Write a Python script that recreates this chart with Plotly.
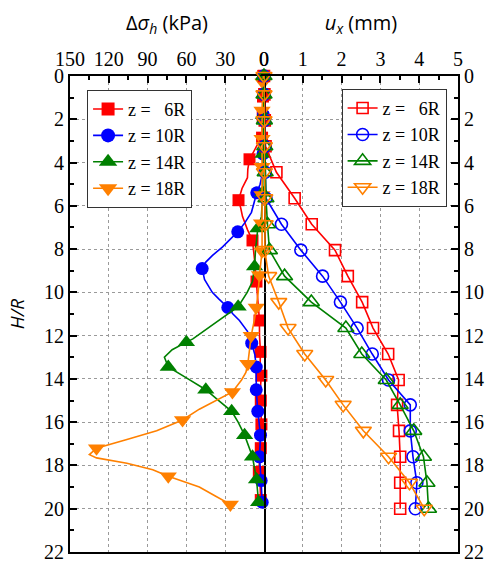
import plotly.graph_objects as go

# ---------------- data ----------------
series_names = ["z = \u00a0\u00a06R", "z = 10R", "z = 14R", "z = 18R"]
colors = ["#FF0000", "#0000FF", "#008000", "#FF8000"]
filled_symbols = ["square", "circle", "triangle-up", "triangle-down"]
open_symbols = ["square-open", "circle-open", "triangle-up-open", "triangle-down-open"]

# Left panel: horizontal stress change (kPa) vs H/R
red_h = [0, 0.95, 1.9, 2.85, 3.0, 3.85, 4.3, 4.7, 5.2, 5.74, 6.1, 6.5, 7.1, 7.6, 8.5, 9.5, 10.4, 11.3,
         12.0, 12.75, 13.3, 13.85, 14.4, 15.0, 15.5, 16.1, 16.7, 17.2, 17.8, 18.3, 18.9, 19.6, 19.9]
red_kpa = [0.5, 0.8, 1.0, 1.5, 3.5, 11.2, 12.5, 12.8, 17.0, 19.7, 18.0, 16.6, 12.8, 8.9, 7.3, 5.8, 5.0, 3.5,
           3.5, 2.7, 3.0, 2.0, 2.8, 2.5, 2.0, 2.0, 3.0, 2.5, 3.5, 4.0, 3.0, 2.5, 2.5]
red_mark = [1, 1, 1, 1, 0, 1, 0, 0, 0, 1, 0, 0, 0, 1, 0, 1, 0, 1,
            0, 1, 0, 1, 0, 1, 0, 1, 0, 1, 0, 1, 0, 1, 0]

blue_h = [0, 1.8, 3.6, 4.6, 5.0, 5.4, 5.8, 6.3, 6.8, 7.2, 7.6, 7.9, 8.3, 8.6, 8.9, 9.4, 9.7, 10.0, 10.3,
          10.7, 11.0, 11.3, 11.8, 12.35, 12.9, 13.45, 14.5, 15.5, 16.6, 17.6, 18.7, 19.7]
blue_kpa = [0.3, 0.5, 0.8, 1.5, 3.0, 5.6, 7.5, 9.7, 15.0, 20.3, 27.0, 32.0, 40.0, 45.0, 47.8, 46.0, 43.0,
            40.0, 35.0, 28.0, 24.0, 19.0, 12.8, 9.5, 7.0, 6.0, 6.0, 4.8, 2.7, 3.5, 2.2, 1.4]
blue_mark = [1, 1, 1, 0, 0, 1, 0, 0, 0, 1, 0, 0, 0, 0, 1, 0, 0, 0, 0,
             1, 0, 0, 0, 1, 0, 1, 1, 1, 1, 1, 1, 1]

green_h = [0, 1.8, 3.6, 5.4, 6.5, 7.05, 8.0, 8.8, 9.5, 10.0, 10.66, 11.0, 11.5, 11.9, 12.15, 12.3, 12.65,
           13.0, 13.45, 13.95, 14.5, 15.0, 15.5, 16.0, 16.6, 17.6, 18.65, 19.7]
green_kpa = [0.3, 0.5, 0.8, 1.0, 2.0, 4.8, 6.5, 7.3, 8.9, 13.0, 20.0, 28.0, 40.0, 50.0, 55.0, 60.0, 71.0,
             77.0, 74.0, 60.0, 45.0, 35.0, 25.0, 20.0, 15.0, 8.9, 5.8, 4.2]
green_mark = [1, 1, 1, 1, 0, 1, 0, 1, 0, 0, 1, 0, 0, 0, 0, 1, 0,
              0, 1, 0, 1, 0, 1, 0, 1, 1, 1, 1]

orange_h = [0, 0.3, 1.6, 2.9, 4.2, 5.5, 6.8, 8.1, 9.2, 10.0, 10.7, 11.3, 12.0, 12.6, 13.3, 13.7, 14.05,
            14.6, 15.0, 15.4, 15.9, 16.4, 16.8, 17.2, 17.5, 17.65, 17.9, 18.2, 18.5, 19.0, 19.4, 19.8]
orange_kpa = [0.5, 0.8, 1.5, 1.5, 1.5, 1.5, 2.0, 1.5, 3.5, 4.5, 6.0, 7.5, 9.9, 11.0, 12.5, 14.0, 17.4,
              24.4, 36.7, 50.0, 63.0, 83.0, 106.0, 129.5, 135.0, 129.5, 106.0, 86.0, 74.0, 50.0, 38.0, 26.0]
orange_mark = [0, 1, 1, 1, 1, 1, 1, 1, 1, 0, 1, 0, 1, 0, 1, 0, 0,
               1, 0, 0, 1, 0, 0, 1, 0, 0, 0, 0, 1, 0, 0, 1]

# Right panel: lateral displacement u_x (mm) vs H/R
ux_h = [0, 0.85, 2.05, 3.25, 4.45, 5.65, 6.85, 8.05, 9.25, 10.45, 11.65, 12.85, 14.05, 15.2, 16.4, 17.6, 18.8, 20.0]
ux_6R = [0, 0.01, 0.02, 0.04, 0.32, 0.79, 1.23, 1.83, 2.16, 2.53, 2.81, 3.20, 3.47, 3.43, 3.48, 3.51, 3.51, 3.51]
ux_10R = [0, 0.0, 0.01, 0.02, 0.03, 0.05, 0.45, 0.95, 1.51, 1.97, 2.40, 2.79, 3.21, 3.77, 3.77, 3.84, 3.94, 3.90]
ux_14R = [0, 0.0, 0.01, 0.02, 0.03, 0.05, 0.09, 0.14, 0.53, 1.22, 2.11, 2.52, 3.15, 3.51, 3.86, 4.11, 4.20, 4.24]
ux_18R = [0, 0.0, 0.0, 0.01, 0.01, 0.02, 0.03, 0.02, 0.12, 0.38, 0.62, 1.05, 1.59, 2.04, 2.56, 3.21, 3.75, 4.13]

kpa_ticks = [150, 120, 90, 60, 30, 0]
ux_ticks = [0, 1, 2, 3, 4, 5]
hr_ticks = list(range(0, 23, 2))

# ---------------- figure ----------------
left_sets = [(red_h, red_kpa, red_mark), (blue_h, blue_kpa, blue_mark),
             (green_h, green_kpa, green_mark), (orange_h, orange_kpa, orange_mark)]
right_sets = [ux_6R, ux_10R, ux_14R, ux_18R]
filled_sizes = [12, 13, 15, 15]
open_sizes = [11, 12, 14, 14]

fig = go.Figure()
for i, (h, v, m) in enumerate(left_sets):
    fig.add_trace(go.Scatter(
        x=v, y=h, xaxis="x", yaxis="y", mode="lines+markers",
        showlegend=False, cliponaxis=False,
        line=dict(color=colors[i], width=1.6),
        marker=dict(symbol=filled_symbols[i], color=colors[i], opacity=1,
                    size=[filled_sizes[i] if k else 0 for k in m], line=dict(width=0)),
    ))
    # legend entry (no data drawn)
    fig.add_trace(go.Scatter(
        x=[None], y=[None], xaxis="x", yaxis="y", mode="lines+markers",
        name=series_names[i], legend="legend",
        line=dict(color=colors[i], width=1.6),
        marker=dict(symbol=filled_symbols[i], color=colors[i], opacity=1,
                    size=filled_sizes[i] + 1, line=dict(width=0)),
    ))
for i, v in enumerate(right_sets):
    fig.add_trace(go.Scatter(
        x=v, y=ux_h, xaxis="x2", yaxis="y2", mode="lines+markers",
        name=series_names[i], legend="legend2", cliponaxis=False,
        line=dict(color=colors[i], width=1.6),
        marker=dict(symbol=open_symbols[i], color=colors[i], size=open_sizes[i], opacity=1,
                    line=dict(color=colors[i], width=1.6)),
    ))

tick_font = dict(family="Liberation Serif", size=20, color="black")
title_font = dict(family="Open Sans", size=20, color="black")
grid_common = dict(showgrid=True, gridcolor="#9a9a9a", gridwidth=1, griddash="3px,3px",
                   zeroline=False, showline=True, linecolor="black", linewidth=2,
                   ticks="inside", ticklen=7, tickwidth=1.5, tickcolor="black",
                   tickfont=tick_font, automargin=False)

fig.update_layout(
    width=491, height=564,
    margin=dict(l=70, r=33, t=76, b=12),
    paper_bgcolor="white", plot_bgcolor="white",
    showlegend=True,
    xaxis=dict(domain=[0, 0.5], range=[150, 0], side="top", anchor="y",
               tickvals=kpa_ticks, mirror=True,
               minor=dict(ticks="inside", ticklen=4, dtick=15, tick0=0, tickcolor="black", showgrid=False),
               title=dict(text="Δ<i>σ</i><sub><i>h</i></sub> (kPa)", font=title_font, standoff=12),
               **grid_common),
    xaxis2=dict(domain=[0.5, 1], range=[0, 5], side="top", anchor="y2",
                tickvals=ux_ticks, mirror=True,
                minor=dict(ticks="inside", ticklen=4, dtick=0.5, tick0=0, tickcolor="black", showgrid=False),
                title=dict(text="<i>u</i><sub><i>x</i></sub> (mm)", font=title_font, standoff=12),
                **grid_common),
    yaxis=dict(domain=[0, 1], range=[22, 0], anchor="x", side="left", tickvals=hr_ticks, mirror=True,
               minor=dict(ticks="inside", ticklen=4, dtick=1, tick0=0, tickcolor="black", showgrid=False),
               title=dict(text="<i>H/R</i>", font=dict(family="Open Sans", size=19, color="black"), standoff=14),
               **grid_common),
    yaxis2=dict(domain=[0, 1], range=[22, 0], anchor="x2", side="right", tickvals=hr_ticks, mirror=False,
                minor=dict(ticks="inside", ticklen=4, dtick=1, tick0=0, tickcolor="black", showgrid=False),
                **grid_common),
    legend=dict(x=0.044, y=0.971, xanchor="left", yanchor="top",
                bgcolor="white", bordercolor="#333333", borderwidth=1,
                font=dict(family="Liberation Serif", size=18, color="black"),
                tracegroupgap=0),
    legend2=dict(x=0.70, y=0.973, xanchor="left", yanchor="top",
                 bgcolor="white", bordercolor="#333333", borderwidth=1,
                 font=dict(family="Liberation Serif", size=18, color="black"),
                 tracegroupgap=0),
)

fig.write_html("out.html")
